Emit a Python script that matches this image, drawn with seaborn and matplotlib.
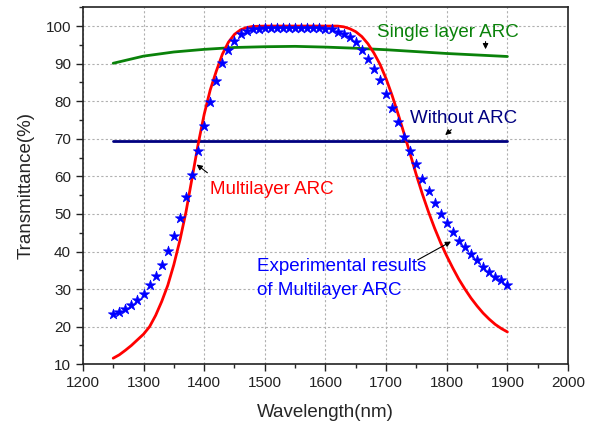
import seaborn as sns
import matplotlib.pyplot as plt
from matplotlib.ticker import MultipleLocator

# 数据
wl_exp = [1250, 1260, 1270, 1280, 1290, 1300, 1310, 1320, 1330, 1340,
          1350, 1360, 1370, 1380, 1390, 1400, 1410, 1420, 1430, 1440,
          1450, 1460, 1470, 1480, 1490, 1500, 1510, 1520, 1530, 1540,
          1550, 1560, 1570, 1580, 1590, 1600, 1610, 1620, 1630, 1640,
          1650, 1660, 1670, 1680, 1690, 1700, 1710, 1720, 1730, 1740,
          1750, 1760, 1770, 1780, 1790, 1800, 1810, 1820, 1830, 1840,
          1850, 1860, 1870, 1880, 1890, 1900]
t_exp = [23.3, 24.0, 24.7, 25.7, 27.1, 28.8, 31.0, 33.5, 36.4, 40.1,
         44.1, 48.8, 54.6, 60.3, 66.8, 73.5, 79.9, 85.5, 90.1, 93.6,
         96.1, 97.8, 98.7, 99.1, 99.3, 99.4, 99.5, 99.5, 99.5, 99.5,
         99.5, 99.5, 99.5, 99.5, 99.4, 99.3, 99.1, 98.5, 97.8, 97.0,
         95.8, 93.6, 91.3, 88.6, 85.7, 81.9, 78.3, 74.6, 70.6, 66.7,
         63.2, 59.4, 56.1, 53.0, 50.1, 47.5, 45.2, 42.8, 41.2, 39.3,
         37.7, 35.9, 34.5, 33.3, 32.4, 31.0]

wl_multi = [1250, 1260, 1270, 1280, 1290, 1300, 1310, 1320, 1330, 1340,
            1350, 1360, 1370, 1380, 1390, 1400, 1410, 1420, 1430, 1440,
            1450, 1460, 1470, 1480, 1500, 1550, 1600, 1620, 1630, 1640,
            1650, 1660, 1670, 1680, 1690, 1700, 1710, 1720, 1730, 1740,
            1750, 1760, 1770, 1780, 1790, 1800, 1810, 1820, 1830, 1840,
            1850, 1860, 1870, 1880, 1890, 1900]
t_multi = [11.6, 12.5, 13.7, 15.0, 16.5, 18.0, 20.0, 23.0, 26.7, 31.0,
           36.5, 43.0, 50.5, 59.5, 68.5, 76.5, 83.0, 88.0, 92.5, 95.7,
           97.8, 99.0, 99.6, 99.9, 100.0, 100.0, 100.0, 100.0, 99.8, 99.3,
           98.5, 97.2, 95.3, 92.8, 89.8, 86.0, 81.5, 76.5, 71.2, 65.8,
           60.3, 55.2, 50.5, 46.2, 42.3, 38.8, 35.6, 32.6, 30.0, 27.6,
           25.5, 23.6, 22.0, 20.6, 19.5, 18.6]

wl_single = [1250, 1300, 1350, 1400, 1450, 1500, 1550, 1600, 1650, 1700,
             1750, 1800, 1850, 1900]
t_single = [90.1, 92.0, 93.1, 93.8, 94.3, 94.5, 94.6, 94.4, 94.1, 93.7,
            93.2, 92.7, 92.3, 91.9]

wl_bare = [1250, 1900]
t_bare = [69.5, 69.5]

sns.set_style("ticks")
plt.rcParams['font.family'] = ['Liberation Sans', 'DejaVu Sans']

fig, ax = plt.subplots(figsize=(5.92, 4.28), dpi=100)
fig.subplots_adjust(left=0.14, right=0.9595, bottom=0.149, top=0.983)

sns.lineplot(x=wl_single, y=t_single, color='#0a820a', lw=2, ax=ax, estimator=None)
sns.lineplot(x=wl_bare, y=t_bare, color='#000080', lw=2, ax=ax, estimator=None)
sns.lineplot(x=wl_multi, y=t_multi, color='red', lw=2, ax=ax, estimator=None)
sns.scatterplot(x=wl_exp, y=t_exp, marker='*', s=60, color='blue',
                edgecolor='blue', linewidth=0.5, ax=ax, zorder=3)

ax.set_xlim(1200, 2000)
ax.set_ylim(10, 105)
ax.xaxis.set_major_locator(MultipleLocator(100))
ax.xaxis.set_minor_locator(MultipleLocator(50))
ax.yaxis.set_major_locator(MultipleLocator(10))
ax.yaxis.set_minor_locator(MultipleLocator(5))
ax.tick_params(which='major', direction='out', length=5, width=1, labelsize=11, colors='#222222')
ax.tick_params(which='minor', direction='out', length=3, width=1)
ax.grid(True, which='major', linestyle=(0, (2, 2)), color='#b0b0b0', lw=0.8)
ax.set_axisbelow(True)
for sp in ax.spines.values():
    sp.set_linewidth(1.2)
    sp.set_color('#222222')

ax.set_xlabel('Wavelength(nm)', fontsize=13.5, labelpad=10)
ax.set_ylabel('Transmittance(%)', fontsize=13.5, labelpad=8)

# 标注
ax.text(1802, 97.2, 'Single layer ARC', color='#0a820a', fontsize=13.5, ha='center', va='baseline')
ax.annotate('', xy=(1864, 93.1), xytext=(1864, 96.6),
            arrowprops=dict(arrowstyle='-|>', color='black', lw=0.8, mutation_scale=8))
ax.text(1828, 74.1, 'Without ARC', color='#000080', fontsize=13.5, ha='center', va='baseline')
ax.annotate('', xy=(1794, 70.5), xytext=(1811, 72.9),
            arrowprops=dict(arrowstyle='-|>', color='black', lw=0.8, mutation_scale=8))
ax.text(1409, 55.4, 'Multilayer ARC', color='red', fontsize=13.5, ha='left', va='baseline')
ax.annotate('', xy=(1384, 63.6), xytext=(1409, 60.5),
            arrowprops=dict(arrowstyle='-|>', color='black', lw=0.8, mutation_scale=8))
ax.text(1487, 34.7, 'Experimental results', color='blue', fontsize=13.5, ha='left', va='baseline')
ax.text(1487, 28.5, 'of Multilayer ARC', color='blue', fontsize=13.5, ha='left', va='baseline')
ax.annotate('', xy=(1811, 43.0), xytext=(1748, 37.4),
            arrowprops=dict(arrowstyle='-|>', color='black', lw=0.8, mutation_scale=8))

fig.savefig('out.png', dpi=100)
